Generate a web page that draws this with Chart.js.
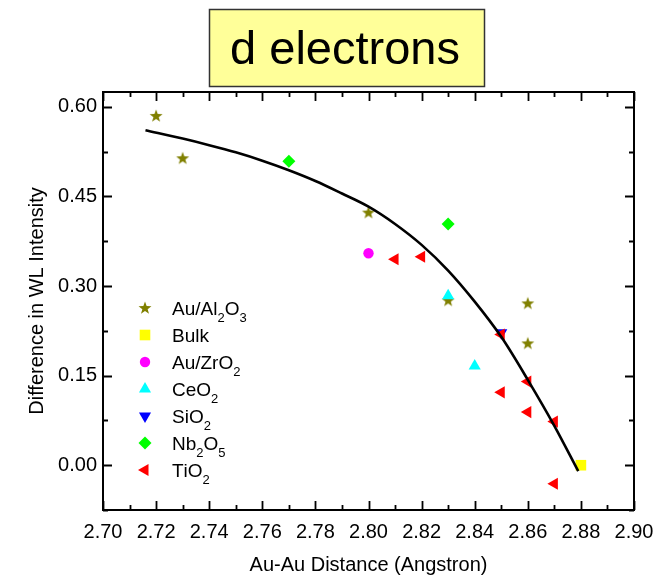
<!DOCTYPE html>
<html><head><meta charset="utf-8">
<script src="https://cdn.jsdelivr.net/npm/chart.js@4.4.0/dist/chart.umd.min.js"></script>
<style>html,body{margin:0;padding:0;background:#fff;}#wrap{width:658px;height:579px;}</style>
</head><body><div id="wrap"><canvas id="c" width="658" height="579"></canvas></div>
<script>
// ---- data ----
const titleText = 'd electrons';
const xTitle = 'Au-Au Distance (Angstron)';
const yTitle = 'Difference in WL Intensity';
const xTickValues = [2.70, 2.72, 2.74, 2.76, 2.78, 2.80, 2.82, 2.84, 2.86, 2.88, 2.90];
const yTickValues = [0.00, 0.15, 0.30, 0.45, 0.60];
const xMinorStep = 0.01;
const yMinorStep = 0.075;

const seriesLabels = ['Au/Al₂O₃', 'Bulk', 'Au/ZrO₂', 'CeO₂', 'SiO₂', 'Nb₂O₅', 'TiO₂'];

const auAl2O3X = [2.72, 2.73, 2.80, 2.83, 2.86, 2.86];
const auAl2O3Y = [0.585, 0.514, 0.423, 0.276, 0.271, 0.204];
const bulkX = [2.88];
const bulkY = [0.000];
const auZrO2X = [2.80];
const auZrO2Y = [0.355];
const ceO2X = [2.83, 2.84];
const ceO2Y = [0.284, 0.166];
const siO2X = [2.85];
const siO2Y = [0.222];
const nb2O5X = [2.77, 2.83];
const nb2O5Y = [0.509, 0.404];
const tiO2X = [2.81, 2.82, 2.85, 2.86, 2.85, 2.86, 2.87, 2.87];
const tiO2Y = [0.345, 0.349, 0.219, 0.140, 0.122, 0.089, 0.073, -0.031];

const fitX = [2.716, 2.73, 2.74, 2.75, 2.76, 2.77, 2.78, 2.79, 2.80, 2.81, 2.82, 2.83, 2.84, 2.85, 2.86, 2.87, 2.879];
const fitY = [0.561, 0.547, 0.536, 0.524, 0.510, 0.494, 0.476, 0.455, 0.433, 0.404, 0.369, 0.326, 0.274, 0.215, 0.143, 0.066, -0.010];

// ---- helpers ----
const pts = (xs, ys) => xs.map((x, i) => ({x, y: ys[i]}));
const FONT = "'Liberation Sans', Arial, sans-serif";

function makeStar(color, R, r) {
  const s = Math.ceil(R * 2 + 2);
  const cv = document.createElement('canvas');
  cv.width = s; cv.height = s;
  const g = cv.getContext('2d');
  g.fillStyle = color;
  g.beginPath();
  for (let i = 0; i < 10; i++) {
    const a = -Math.PI / 2 + i * Math.PI / 5;
    const rad = i % 2 === 0 ? R : r;
    const px = s / 2 + rad * Math.cos(a), py = s / 2 + 0.3 + rad * Math.sin(a);
    i === 0 ? g.moveTo(px, py) : g.lineTo(px, py);
  }
  g.closePath(); g.fill();
  return cv;
}
const starImg = makeStar('#808000', 6.8, 2.8);

function scatterSet(label, data, color, style, radius, rotation, order) {
  return {
    type: 'scatter', label, data,
    pointStyle: style, pointRadius: radius, pointHoverRadius: radius,
    rotation: rotation, backgroundColor: color, borderColor: color, borderWidth: 0,
    order
  };
}

const datasets = [
  {
    type: 'line', label: 'fit', data: pts(fitX, fitY),
    borderColor: '#000', borderWidth: 2.6, pointRadius: 0, fill: false,
    cubicInterpolationMode: 'monotone', order: -100
  },
  scatterSet(seriesLabels[0], pts(auAl2O3X, auAl2O3Y), '#808000', starImg, 7, 0, -1),
  scatterSet(seriesLabels[1], pts(bulkX, bulkY), '#ffff00', 'rect', 7.5, 0, -2),
  scatterSet(seriesLabels[2], pts(auZrO2X, auZrO2Y), '#ff00ff', 'circle', 5.2, 0, -3),
  scatterSet(seriesLabels[3], pts(ceO2X, ceO2Y), '#00ffff', 'triangle', 7, 0, -4),
  scatterSet(seriesLabels[4], pts(siO2X, siO2Y), '#0000ff', 'triangle', 7, 180, -5),
  scatterSet(seriesLabels[5], pts(nb2O5X, nb2O5Y), '#00ff00', 'rectRot', 6.5, 0, -6),
  scatterSet(seriesLabels[6], pts(tiO2X, tiO2Y), '#ff0000', 'triangle', 7, -90, -7)
];

// frame + inward ticks on all four sides
const framePlugin = {
  id: 'frame',
  beforeDatasetsDraw(chart) {
    const {ctx, chartArea: a, scales: {x, y}} = chart;
    ctx.save();
    ctx.strokeStyle = '#000';
    ctx.lineWidth = 2;
    ctx.strokeRect(a.left, a.top, a.right - a.left, a.bottom - a.top);
    ctx.lineWidth = 1.8;
    ctx.beginPath();
    const nx = Math.round((x.max - x.min) / xMinorStep);
    for (let i = 0; i <= nx; i++) {
      const v = x.min + i * xMinorStep;
      const px = Math.round(x.getPixelForValue(v)) + 0.5;
      const L = (i % 2 === 0) ? 9 : 5;
      ctx.moveTo(px, a.bottom); ctx.lineTo(px, a.bottom - L);
      ctx.moveTo(px, a.top); ctx.lineTo(px, a.top + L);
    }
    const ny = Math.round((y.max - y.min) / yMinorStep);
    for (let i = 0; i <= ny; i++) {
      const v = y.min + i * yMinorStep;
      const py = Math.round(y.getPixelForValue(v)) + 0.5;
      const L = (i % 2 === 1) ? 9 : 5;
      ctx.moveTo(a.left, py); ctx.lineTo(a.left + L, py);
      ctx.moveTo(a.right, py); ctx.lineTo(a.right - L, py);
    }
    ctx.stroke();
    ctx.restore();
  }
};

// title box
const titleBoxPlugin = {
  id: 'titleBox',
  afterDraw(chart) {
    const ctx = chart.ctx;
    ctx.save();
    ctx.fillStyle = '#ffff99';
    ctx.fillRect(209, 9, 276, 78);
    ctx.strokeStyle = '#333';
    ctx.lineWidth = 1.5;
    ctx.strokeRect(209.5, 9.5, 275, 77);
    ctx.fillStyle = '#000';
    ctx.font = '47px ' + FONT;
    ctx.textAlign = 'center';
    ctx.textBaseline = 'alphabetic';
    ctx.fillText(titleText, 345, 64);
    ctx.restore();
  }
};

// inset legend with subscripts
const SUB = '₀₁₂₃₄₅₆₇₈₉';
function drawRich(ctx, text, x, y) {
  let cx = x;
  for (const ch of text) {
    const si = SUB.indexOf(ch);
    if (si >= 0) {
      ctx.font = '13px ' + FONT;
      ctx.fillText(String(si), cx, y + 7);
      cx += ctx.measureText(String(si)).width;
    } else {
      ctx.font = '19px ' + FONT;
      ctx.fillText(ch, cx, y);
      cx += ctx.measureText(ch).width;
    }
  }
}
const legendPlugin = {
  id: 'insetLegend',
  afterDraw(chart) {
    const ctx = chart.ctx;
    ctx.save();
    const sets = chart.data.datasets.filter(d => d.type === 'scatter');
    sets.forEach((d, i) => {
      const cy = 308 + i * 27;
      ctx.fillStyle = d.backgroundColor;
      ctx.strokeStyle = d.borderColor;
      Chart.helpers.drawPoint(ctx, {pointStyle: d.pointStyle, rotation: d.rotation, radius: d.pointRadius, borderWidth: 0}, 145, cy);
      ctx.fillStyle = '#000';
      ctx.textAlign = 'left';
      ctx.textBaseline = 'alphabetic';
      drawRich(ctx, d.label, 172, cy + 7);
    });
    ctx.restore();
  }
};

new Chart(document.getElementById('c'), {
  type: 'scatter',
  data: {datasets},
  options: {
    responsive: false, animation: false, devicePixelRatio: 1,
    layout: {padding: {top: 92, right: 24, left: 0, bottom: 0}},
    plugins: {legend: {display: false}, title: {display: false}, tooltip: {enabled: false}},
    scales: {
      x: {
        type: 'linear', min: 2.70, max: 2.90,
        afterBuildTicks: s => { s.ticks = xTickValues.map(v => ({value: v})); },
        afterFit: s => { s.height = 69; s.paddingLeft = 0; s.paddingRight = 0; },
        grid: {display: false, drawTicks: false}, border: {display: false},
        ticks: {callback: v => Number(v).toFixed(2), font: {family: FONT, size: 20}, color: '#000', padding: 10, maxRotation: 0, autoSkip: false},
        title: {display: true, text: xTitle, font: {family: FONT, size: 20}, color: '#000', padding: {top: 0, bottom: 2}}
      },
      y: {
        type: 'linear', min: -0.075, max: 0.625,
        afterBuildTicks: s => { s.ticks = yTickValues.map(v => ({value: v})); },
        afterFit: s => { s.width = 103; s.paddingTop = 0; s.paddingBottom = 0; },
        grid: {display: false, drawTicks: false}, border: {display: false},
        ticks: {callback: v => Number(v).toFixed(2), font: {family: FONT, size: 20}, color: '#000', padding: 6, autoSkip: false},
        title: {display: true, text: yTitle, font: {family: FONT, size: 20}, color: '#000', padding: {top: 25, bottom: 0}}
      }
    }
  },
  plugins: [framePlugin, titleBoxPlugin, legendPlugin]
});
</script>
</body></html>
